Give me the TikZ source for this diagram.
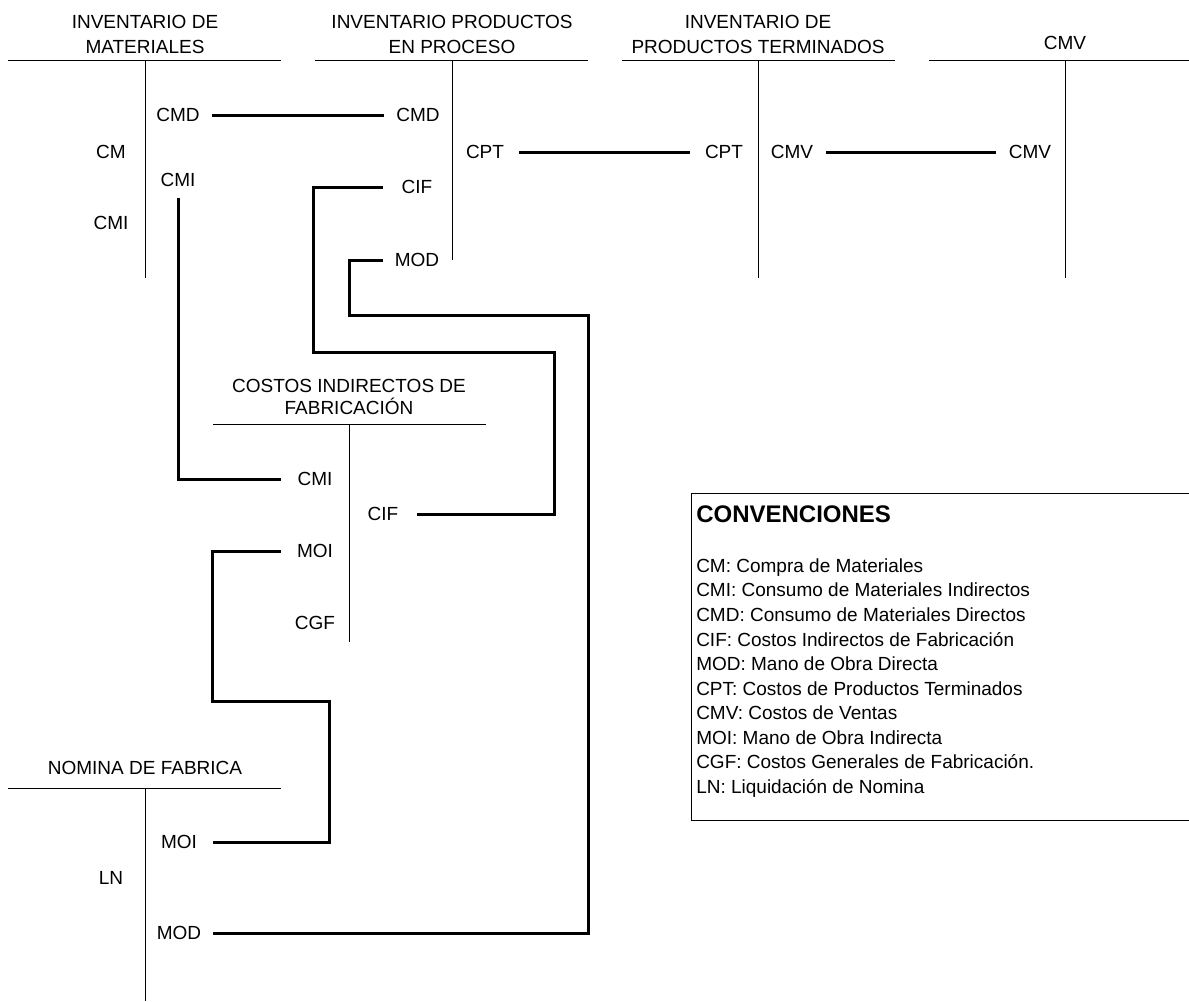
\documentclass[tikz,border=0pt]{standalone}
\usepackage{fontspec}
\setmainfont{Liberation Sans}
\begin{document}
\begin{tikzpicture}[x=0.75pt,y=-0.75pt,
  every node/.style={font=\fontsize{14.25pt}{18.75pt}\selectfont, inner sep=0pt},
  lbl/.style={text height=10.2pt, text depth=0pt, minimum width=50.25pt, align=center},
  title/.style={align=center, text depth=0pt, anchor=south},
  tline/.style={line width=0.75pt},
  conn/.style={line width=2.25pt}]
\useasboundingbox (0,0) rectangle (1189,1001);

% titles
\node[title] (t1) at (145,54) {INVENTARIO DE\\MATERIALES};
\node[title] (t2) at (452,54) {INVENTARIO PRODUCTOS\\EN PROCESO};
\node[title] (t3) at (758,53.5) {INVENTARIO DE\\PRODUCTOS TERMINADOS};
\node[title] (t4) at (1065,49.5) {CMV};
\node[title, font=\fontsize{14.25pt}{16.7pt}\selectfont] (t5) at (349,415) {COSTOS INDIRECTOS DE\\FABRICACIÓN};
\node[title] (t6) at (145,775) {NOMINA DE FABRICA};

% T accounts
\draw[tline] (8,60) -- (281,60);   \draw[tline] (145,60) -- (145,278);
\draw[tline] (315,60) -- (588,60); \draw[tline] (452,60) -- (452,260);
\draw[tline] (622,60) -- (895,60); \draw[tline] (758,60) -- (758,278);
\draw[tline] (929,60) -- (1189,60); \draw[tline] (1065,60) -- (1065,278);
\draw[tline] (213,424) -- (486,424); \draw[tline] (349,424) -- (349,642);
\draw[tline] (8,788) -- (281,788); \draw[tline] (145,788) -- (145,1001);

% labels
\node[lbl] (cm) at (111,152) {CM};
\node[lbl] (cmiL) at (111,223) {CMI};
\node[lbl] (cmdA) at (178,115) {CMD};
\node[lbl] (cmiA) at (178,180) {CMI};
\node[lbl] (cmdB) at (418,115) {CMD};
\node[lbl] (cifB) at (417,187) {CIF};
\node[lbl] (modB) at (417,260) {MOD};
\node[lbl] (cptA) at (485,152) {CPT};
\node[lbl] (cptB) at (724,152) {CPT};
\node[lbl] (cmvA) at (792,152) {CMV};
\node[lbl] (cmvB) at (1030,152) {CMV};
\node[lbl] (cmiC) at (315,479) {CMI};
\node[lbl] (cifC) at (383,514) {CIF};
\node[lbl] (moiC) at (315,551) {MOI};
\node[lbl] (cgf) at (315,623) {CGF};
\node[lbl] (moiN) at (179,842) {MOI};
\node[lbl] (ln) at (111,878) {LN};
\node[lbl] (modN) at (179,933) {MOD};

% corner coordinates
\coordinate (k1) at (554,352); \coordinate (k2) at (313,352);
\coordinate (k3) at (588,315); \coordinate (k4) at (349,315);
\coordinate (k5) at (329,701); \coordinate (k6) at (212,701);

% connectors
\draw[conn] (cmdA.east) -- (cmdB.west);
\draw[conn] (cptA.east) -- (cptB.west);
\draw[conn] (cmvA.east) -- (cmvB.west);
\draw[conn, shorten <=8pt] (cmiA.south) |- (cmiC.west);
\draw[conn] (cifC.east) -| (k1) -- (k2) |- (cifB.west);
\draw[conn] (modN.east) -| (k3) -- (k4) |- (modB.west);
\draw[conn] (moiN.east) -| (k5) -- (k6) |- (moiC.west);

% legend
\node[draw, line width=0.75pt, minimum width=375pt, minimum height=245.25pt, anchor=north west] (legend) at (691,493) {};
\node[anchor=base west, font=\fontsize{18pt}{20pt}\selectfont\bfseries] (legtitle) at (696,522) {CONVENCIONES};
\node[anchor=south west, align=left, text depth=0pt, font=\fontsize{14.25pt}{18.4pt}\selectfont] (leglist) at (696,793.5) {CM: Compra de Materiales\\
CMI: Consumo de Materiales Indirectos\\
CMD: Consumo de Materiales Directos\\
CIF: Costos Indirectos de Fabricación\\
MOD: Mano de Obra Directa\\
CPT: Costos de Productos Terminados\\
CMV: Costos de Ventas\\
MOI: Mano de Obra Indirecta\\
CGF: Costos Generales de Fabricación.\\
LN: Liquidación de Nomina};
\end{tikzpicture}
\end{document}
